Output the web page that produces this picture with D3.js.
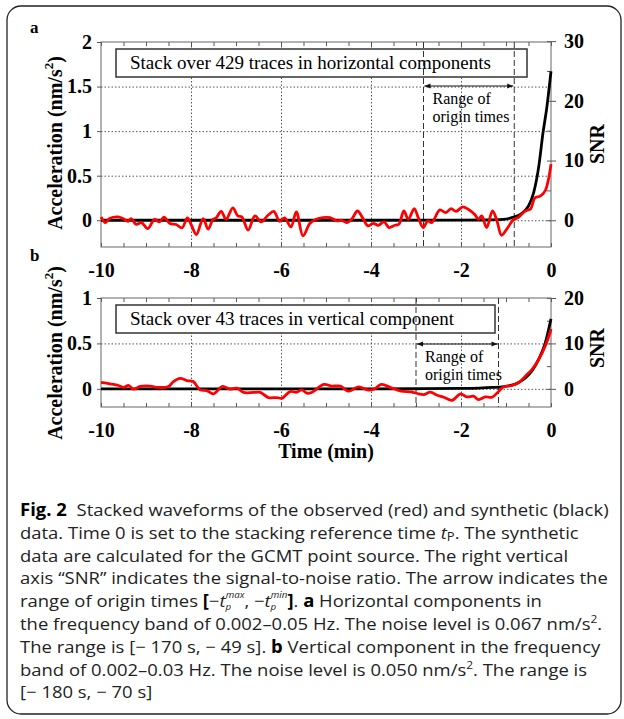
<!DOCTYPE html>
<html>
<head>
<meta charset="utf-8">
<script src="https://cdn.jsdelivr.net/npm/d3@7"></script>
<style>
  body { margin: 0; background: #fff; }
  svg { display: block; }
  .tick text { font-family: "Liberation Serif", "Times New Roman", serif; font-weight: bold; font-size: 20px; fill: #000; }
</style>
</head>
<body>
<div class="wrapper"></div>
<script>
// ---- values ----
// panel a : stack over 429 traces, horizontal components
var timeObsA = [-10, -9.9, -9.81, -9.62, -9.51, -9.4, -9.33, -9.22, -9.1, -8.96, -8.81, -8.7, -8.6, -8.47, -8.33, -8.2, -8.08, -7.99, -7.88, -7.73,
  -7.62, -7.51, -7.44, -7.33, -7.22, -7.07, -6.96, -6.87, -6.73, -6.58, -6.44, -6.29, -6.16, -6.03, -5.92, -5.78, -5.66, -5.51, -5.36, -5.22,
  -5.07, -4.91, -4.76, -4.65, -4.54, -4.43, -4.3, -4.19, -4.07, -3.95, -3.84, -3.71, -3.6, -3.47, -3.38, -3.27, -3.17, -3.04, -2.95, -2.84,
  -2.74, -2.65, -2.47, -2.34, -2.22, -2.11, -1.96, -1.84, -1.7, -1.61, -1.54, -1.43, -1.3, -1.2, -1.1, -0.96, -0.84, -0.73, -0.58, -0.45,
  -0.36, -0.24, -0.13, -0.06, 0];
var accObsA = [0.037, -0.026, 0.019, 0.037, 0.019, -0.011, 0.019, -0.045, -0.026, -0.093, 0.011, -0.019, 0.034, -0.037, -0.048, -0.086, 0.026, -0.056, -0.16, 0.019,
  -0.10, 0.011, 0.026, 0.10, 0.011, 0.14, 0.048, 0.037, -0.11, 0.048, -0.019, 0.056, 0.10, -0.011, 0.026, -0.075, 0.093, -0.175, -0.037, 0.011,
  0.03, 0.03, -0.007, 0, -0.026, 0.011, 0.104, 0.03, -0.063, -0.034, -0.056, -0.019, -0.082, -0.056, -0.045, 0.104, 0.011, 0.13, 0.03, -0.082,
  -0.007, -0.026, 0.116, 0.086, 0.13, 0.10, 0.15, 0.123, 0.067, 0.011, 0.048, -0.082, 0.104, -0.007, -0.168, -0.082, 0.004, 0.03, 0.10, 0.13,
  0.25, 0.27, 0.33, 0.45, 0.63];
var timeSynA = [-10, -4, -2, -1.5, -1.2, -1.0, -0.87, -0.68, -0.5, -0.385, -0.27, -0.178, -0.089, 0];
var accSynA = [0, 0, 0.001, 0.003, 0.007, 0.013, 0.03, 0.067, 0.16, 0.31, 0.61, 0.98, 1.28, 1.67];

// panel b : stack over 43 traces, vertical component
var timeObsB = [-10, -9.8, -9.61, -9.5, -9.39, -9.28, -9.13, -8.91, -8.73, -8.5, -8.39, -8.24, -8.09, -7.95, -7.8, -7.65, -7.5, -7.3, -7.14, -6.98,
  -6.83, -6.61, -6.46, -6.28, -6.09, -5.98, -5.8, -5.65, -5.54, -5.42, -5.31, -5.05, -4.87, -4.68, -4.5, -4.28, -4.06, -3.92, -3.77, -3.55,
  -3.33, -3.11, -2.94, -2.83, -2.68, -2.53, -2.38, -2.2, -2.01, -1.87, -1.72, -1.61, -1.46, -1.31, -1.16, -1.05, -0.87, -0.72, -0.57, -0.42,
  -0.27, -0.13, -0.02, 0];
var accObsB = [0.07, 0.055, 0.037, 0.015, 0.037, -0.004, 0.026, 0.03, 0.015, 0.026, 0.08, 0.115, 0.09, 0.08, -0.01, -0.02, -0.055, 0.026, -0.004, 0.007,
  -0.04, -0.04, -0.04, -0.096, -0.096, -0.104, -0.03, -0.037, -0.011, -0.048, -0.037, 0.048, 0.03, 0.03, -0.026, 0.022, -0.015, 0, 0.048, 0.011,
  -0.026, -0.033, -0.055, -0.063, -0.037, -0.07, -0.093, -0.126, -0.055, -0.089, -0.081, -0.118, -0.089, -0.093, -0.026, 0.022, 0.037, 0.067, 0.14, 0.215,
  0.326, 0.47, 0.62, 0.66];
var timeSynB = [-10, -4, -3, -2, -1.6, -1.3, -1.05, -0.87, -0.72, -0.57, -0.42, -0.27, -0.13, 0];
var accSynB = [0, 0, 0.001, 0.004, 0.008, 0.015, 0.025, 0.04, 0.07, 0.12, 0.2, 0.33, 0.5, 0.77];

// noise levels (nm/s2) and ranges of origin times (s)
var noiseLevels = [0.067, 0.050];
var originRangeA = [-170, -49];
var originRangeB = [-180, -70];

// tick labels
var timeTicks = [-10, -8, -6, -4, -2, 0];
var accTicksA = [0, 0.5, 1, 1.5, 2];
var accTicksB = [0, 0.5, 1];
var snrTicksA = [0, 10, 20, 30];
var snrTicksB = [0, 10, 20];

var boxTexts = ["Stack over 429 traces in horizontal components", "Stack over 43 traces in vertical component"];

var captionLines = [
  [["Fig. 2", "b"], ["Stacked waveforms of the observed (red) and synthetic (black)", "gap"]],
  [["data. Time 0 is set to the stacking reference time ", "n"], ["t", "i"], ["P", "small"], [". The synthetic", "n"]],
  [["data are calculated for the GCMT point source. The right vertical", "n"]],
  [["axis \u201cSNR\u201d indicates the signal-to-noise ratio. The arrow indicates the", "n"]],
  [["range of origin times ", "n"], ["[", "b"], ["\u2212", "n"], ["t", "i"], ["p", "sub"], ["max", "supback"], [", \u2212", "n"], ["t", "i"], ["p", "sub"], ["min", "supback"], ["]", "b"], [". ", "n"], ["a", "b"], [" Horizontal components in", "n"]],
  [["the frequency band of 0.002\u20130.05 Hz. The noise level is 0.067 nm/s", "n"], ["2", "sup"], [".", "n"]],
  [["The range is [\u2212 170 s, \u2212 49 s]. ", "n"], ["b", "b"], [" Vertical component in the frequency", "n"]],
  [["band of 0.002\u20130.03 Hz. The noise level is 0.050 nm/s", "n"], ["2", "sup"], [". The range is", "n"]],
  [["[\u2212 180 s, \u2212 70 s]", "n"]]
];

var width = 624, height = 719;
var left = 101, right = 551;

var svg = d3.select(".wrapper")
  .append("svg")
    .attr("width", width)
    .attr("height", height);

svg.append("rect").attr("width", width).attr("height", height).attr("fill", "#fff");

// outer frame of the figure
svg.append("rect")
  .attr("x", 7).attr("y", 6)
  .attr("width", 614).attr("height", 708)
  .attr("rx", 14)
  .attr("fill", "none")
  .attr("stroke", "#222")
  .attr("stroke-width", 1.3);

var x = d3.scaleLinear().domain([-10, 0]).range([left, right]);

var serif = "'Liberation Serif', 'Times New Roman', serif";

function drawPanel(p) {
  var y = d3.scaleLinear().domain(p.yDomain).range([p.bottom, p.top]);
  var snr = d3.scaleLinear()
    .domain([p.yDomain[0] / p.noise, p.yDomain[1] / p.noise])
    .range([p.bottom, p.top]);
  var h = p.bottom - p.top;
  var g = svg.append("g");

  // dotted grid
  g.append("g")
    .attr("transform", "translate(0," + p.bottom + ")")
    .call(d3.axisBottom(x).tickValues(timeTicks.slice(1, -1)).tickSize(-h).tickFormat(""))
    .call(function(s) { s.select(".domain").remove(); })
    .selectAll("line").attr("stroke", "#c8c8c8").attr("stroke-dasharray", "1.5,2");
  g.append("g")
    .attr("transform", "translate(" + left + ",0)")
    .call(d3.axisLeft(y).tickValues(p.accTicks.slice(0, -1)).tickSize(-(right - left)).tickFormat(""))
    .call(function(s) { s.select(".domain").remove(); })
    .selectAll("line").attr("stroke", "#c8c8c8").attr("stroke-dasharray", "1.5,2");

  // minor ticks, top and bottom, pointing inward
  var minor = d3.range(-10, 0.01, 0.5);
  g.append("g")
    .attr("transform", "translate(0," + p.bottom + ")")
    .call(d3.axisBottom(x).tickValues(minor).tickSize(-4).tickFormat(""))
    .call(function(s) { s.select(".domain").remove(); });
  g.append("g")
    .attr("transform", "translate(0," + p.top + ")")
    .call(d3.axisTop(x).tickValues(minor).tickSize(-4).tickFormat(""))
    .call(function(s) { s.select(".domain").remove(); });

  // time labels
  g.append("g")
    .attr("transform", "translate(0," + p.bottom + ")")
    .call(d3.axisBottom(x).tickValues(timeTicks).tickSize(0).tickPadding(16).tickFormat(function(d) { return String(d); }))
    .call(function(s) { s.select(".domain").remove(); });

  // left axis : acceleration
  g.append("g")
    .attr("transform", "translate(" + left + ",0)")
    .call(d3.axisLeft(y).tickValues(p.accTicks).tickSize(4).tickPadding(5).tickFormat(function(d) { return String(d); }))
    .call(function(s) { s.select(".domain").remove(); });

  // right axis : SNR
  g.append("g")
    .attr("transform", "translate(" + right + ",0)")
    .call(d3.axisRight(snr).tickValues(d3.range(0, p.snrTicks[p.snrTicks.length - 1] + 0.1, 5)).tickSize(-4).tickFormat(""))
    .call(function(s) { s.select(".domain").remove(); });
  g.append("g")
    .attr("transform", "translate(" + right + ",0)")
    .call(d3.axisRight(snr).tickValues(p.snrTicks).tickSize(5).tickPadding(8).tickFormat(function(d) { return String(d); }))
    .call(function(s) { s.select(".domain").remove(); });

  g.selectAll(".tick line").attr("stroke", "#555");

  // plot frame
  g.append("rect")
    .attr("x", left).attr("y", p.top)
    .attr("width", right - left).attr("height", h)
    .attr("fill", "none")
    .attr("stroke", "#666")
    .attr("stroke-width", 1);

  // label box
  var box = g.append("g");
  box.append("rect")
    .attr("x", 116).attr("y", p.top + 7)
    .attr("width", p.boxWidth).attr("height", 28)
    .attr("fill", "#fff")
    .attr("stroke", "#333")
    .attr("stroke-width", 1.5);
  box.append("text")
    .attr("x", 130).attr("y", p.top + 27)
    .attr("font-family", serif)
    .attr("font-size", 19)
    .text(p.boxText);

  // range of origin times
  var t0 = x(p.origin[0] / 60), t1 = x(p.origin[1] / 60);
  g.selectAll(".origin")
    .data([t0, t1]).enter()
    .append("line")
      .attr("x1", function(d) { return d; }).attr("x2", function(d) { return d; })
      .attr("y1", p.top).attr("y2", p.bottom)
      .attr("stroke", "#333")
      .attr("stroke-width", 1)
      .attr("stroke-dasharray", "6,3");
  g.append("line")
    .attr("x1", t0 + 1).attr("x2", t1 - 1)
    .attr("y1", p.arrowY).attr("y2", p.arrowY)
    .attr("stroke", "#111")
    .attr("stroke-width", 1)
    .attr("marker-start", "url(#arrowL)")
    .attr("marker-end", "url(#arrowR)");
  g.selectAll(".rangeText")
    .data(["Range of", "origin times"]).enter()
    .append("text")
      .attr("x", t0 + 9)
      .attr("y", function(d, i) { return p.arrowY + 18 + i * 18; })
      .attr("font-family", serif)
      .attr("font-size", 16)
      .text(function(d) { return d; });

  // synthetic (black) then observed (red)
  var line = d3.line()
    .x(function(d) { return x(d[0]); })
    .y(function(d) { return y(d[1]); });
  g.append("path")
    .datum(d3.zip(p.timeSyn, p.accSyn))
    .attr("d", line.curve(d3.curveMonotoneX))
    .attr("fill", "none")
    .attr("stroke", "#000")
    .attr("stroke-width", 2.8);
  g.append("path")
    .datum(d3.zip(p.timeObs, p.accObs))
    .attr("d", line.curve(d3.curveCatmullRom.alpha(0.5)))
    .attr("fill", "none")
    .attr("stroke", "#ff0000")
    .attr("stroke-width", 2.8)
    .attr("stroke-linejoin", "round");

  // axis titles
  var acc = g.append("text")
    .attr("transform", "translate(55," + p.labelY + ") rotate(-90)")
    .attr("text-anchor", "middle")
    .attr("dy", "0.35em")
    .attr("font-family", serif)
    .attr("font-weight", "bold")
    .attr("font-size", 20);
  acc.append("tspan").text("Acceleration (nm/s");
  acc.append("tspan").attr("font-size", 13).attr("dy", -9).text("2");
  acc.append("tspan").attr("dy", 9).text(")");

  g.append("text")
    .attr("transform", "translate(597," + p.snrY + ") rotate(-90)")
    .attr("text-anchor", "middle")
    .attr("dy", "0.35em")
    .attr("font-family", serif)
    .attr("font-weight", "bold")
    .attr("font-size", 20)
    .text("SNR");

  g.append("text")
    .attr("x", 30).attr("y", p.letterY)
    .attr("font-family", serif)
    .attr("font-weight", "bold")
    .attr("font-size", 17)
    .text(p.letter);
}

// arrow heads
var defs = svg.append("defs");
defs.append("marker").attr("id", "arrowR")
  .attr("viewBox", "0 0 10 10").attr("refX", 10).attr("refY", 5)
  .attr("markerWidth", 7).attr("markerHeight", 6).attr("orient", "auto")
  .append("path").attr("d", "M0,1L10,5L0,9Z").attr("fill", "#111");
defs.append("marker").attr("id", "arrowL")
  .attr("viewBox", "0 0 10 10").attr("refX", 0).attr("refY", 5)
  .attr("markerWidth", 7).attr("markerHeight", 6).attr("orient", "auto")
  .append("path").attr("d", "M10,1L0,5L10,9Z").attr("fill", "#111");

drawPanel({
  letter: "a", letterY: 33,
  top: 42, bottom: 247, yDomain: [-0.3, 2], noise: noiseLevels[0],
  accTicks: accTicksA, snrTicks: snrTicksA,
  timeObs: timeObsA, accObs: accObsA, timeSyn: timeSynA, accSyn: accSynA,
  origin: originRangeA, arrowY: 86,
  boxText: boxTexts[0], boxWidth: 411,
  labelY: 143, snrY: 144
});

drawPanel({
  letter: "b", letterY: 261,
  top: 298, bottom: 407, yDomain: [-0.2, 1], noise: noiseLevels[1],
  accTicks: accTicksB, snrTicks: snrTicksB,
  timeObs: timeObsB, accObs: accObsB, timeSyn: timeSynB, accSyn: accSynB,
  origin: originRangeB, arrowY: 344,
  boxText: boxTexts[1], boxWidth: 379,
  labelY: 353, snrY: 348
});

svg.append("text")
  .attr("x", 326).attr("y", 451)
  .attr("dy", "0.35em")
  .attr("text-anchor", "middle")
  .attr("font-family", serif)
  .attr("font-weight", "bold")
  .attr("font-size", 20)
  .text("Time (min)");

// caption
var cap = svg.append("g").attr("font-family", "'Open Sans', 'Noto Sans', sans-serif").attr("font-size", 17).attr("fill", "#222");
var capLines = cap.selectAll("text")
  .data(captionLines).enter()
  .append("text")
    .attr("x", 0)
    .attr("y", function(d, i) { return 516 + i * 22.8; });

var shifts = { sub: 3, sup: -7, supback: -9.5, small: 2 };
capLines.each(function(segs) {
  var t = d3.select(this);
  var cur = 0;
  segs.forEach(function(s) {
    var ts = t.append("tspan").text(s[0]);
    var off = shifts[s[1]] || 0;
    if (off != cur) ts.attr("dy", off - cur);
    cur = off;
    if (s[1] == "b") ts.attr("font-weight", "bold").attr("fill", "#000");
    if (s[1] == "gap") ts.attr("dx", 9);
    if (s[1] == "i") ts.attr("font-style", "italic");
    if (s[1] == "small") ts.attr("font-size", 12);
    if (s[1] == "sup") ts.attr("font-size", 11);
    if (s[1] == "sub") ts.attr("font-size", 9).attr("font-style", "italic");
    if (s[1] == "supback") ts.attr("font-size", 9).attr("font-style", "italic").attr("dx", -5);
  });
});

// squeeze the caption to the width of the original typeface
var firstWidth = capLines.node().getBBox().width;
cap.attr("transform", "translate(20,0) scale(" + (589 / firstWidth) + ",1)");
</script>
</body>
</html>
